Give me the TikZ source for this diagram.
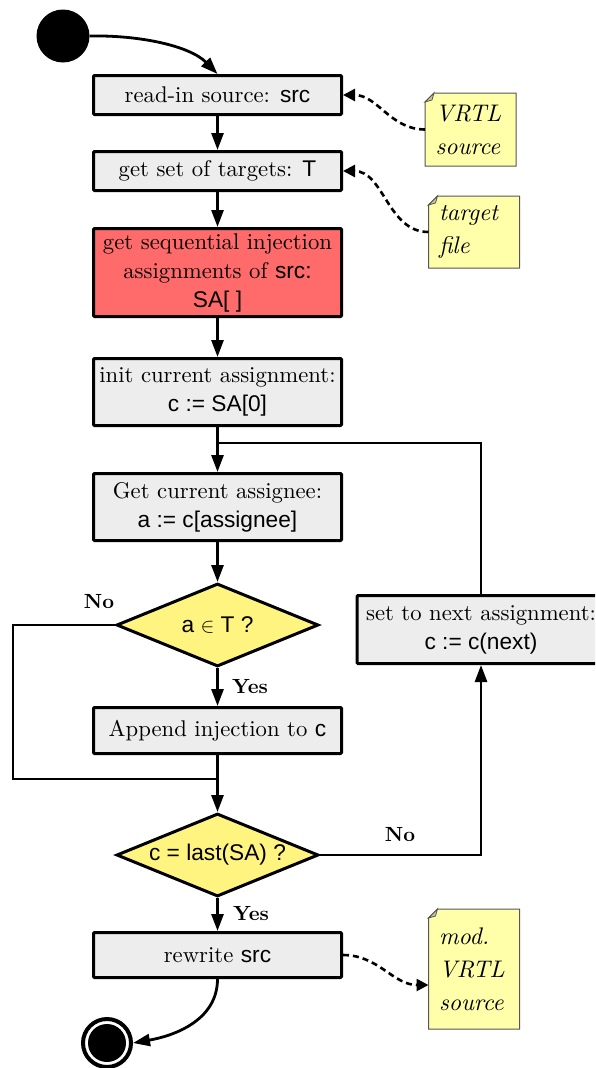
\documentclass[tikz,border=0pt]{standalone}
\usepackage{fontspec}
% 10pt design of Latin Modern at every size
\setmainfont{lmroman10}[Extension=.otf, UprightFont=*-regular, BoldFont=*-bold,
  ItalicFont=*-italic, BoldItalicFont=*-bolditalic]
\newfontfamily\codefont{Liberation Sans}
\usetikzlibrary{arrows.meta,shapes.geometric}
\pgfdeclarelayer{background}
\pgfsetlayers{background,main}

\definecolor{boxgray}{HTML}{EDEDED}
\definecolor{alertred}{HTML}{FF6A6A}
\definecolor{decisionyellow}{HTML}{FFF480}
\definecolor{notepaperfill}{HTML}{FFFFAA}
\definecolor{notefoldfill}{HTML}{CFC78E}
\definecolor{noteedge}{HTML}{555555}

% inline code in the sans face
\newcommand{\cd}[1]{{\codefont #1}}

\begin{document}
\begin{tikzpicture}[x=1pt,y=-1pt,
  every node/.style={font=\fontsize{22.7}{29}\selectfont},
  stepbox/.style={draw, line width=3pt, fill=boxgray, minimum width=248pt,
    inner sep=0pt, align=center, rounded corners=1pt},
  decision/.style={diamond, draw, line width=3pt, fill=decisionyellow,
    minimum width=202pt, minimum height=83pt, inner sep=0pt, aspect=2.4,
    font=\codefont\fontsize{22.7}{29}\selectfont},
  notetext/.style={rectangle, inner sep=0pt, outer sep=0pt, text width=70pt,
    align=left, minimum width=91pt, font=\itshape\fontsize{24}{33}\selectfont},
  notepaper/.style={fill=notepaperfill, draw=noteedge, line width=1pt},
  notefold/.style={fill=notefoldfill, draw=noteedge, line width=0.8pt},
  lbl/.style={font=\bfseries\fontsize{20.5}{24}\selectfont, inner sep=0pt},
  flow/.style={line width=2.8pt, -{Triangle[length=17pt,width=12pt]}},
  plainline/.style={line width=2.6pt},
  loopline/.style={line width=2.2pt},
  dataflow/.style={line width=2.6pt, dash pattern=on 6pt off 4pt,
    -{Triangle[length=12pt,width=12pt]}},
]
\path[use as bounding box] (0,0) rectangle (595,1068);
\clip (0,0) rectangle (595,1068);

% initial and final states
\node[circle, fill=black, minimum size=53pt, inner sep=0pt] (start) at (63,36) {};
\node[circle, draw, line width=4pt, minimum size=48pt, inner sep=0pt] (stop) at (107,1043) {};
\node[circle, fill=black, minimum size=38pt, inner sep=0pt] (stopcore) at (stop.center) {};

% main actions
\node[stepbox, minimum height=39pt] (readin) at (217.5,95) {read-in source: \cd{src}};
\node[stepbox, minimum height=39pt] (targets) at (217.5,171) {get set of targets: \cd{T}};
\node[stepbox, minimum height=88pt, fill=alertred] (seqinj) at (217.5,272.5)
  {get sequential injection\\assignments of \cd{src:}\\\cd{SA[ ]}};
\node[stepbox, minimum height=67pt] (initc) at (217.5,392) {init current assignment:\\\cd{c := SA[0]}};
\node[stepbox, minimum height=67pt] (assignee) at (217.5,507) {Get current assignee:\\\cd{a := c[assignee]}};
\node[decision] (intargets) at (217.5,625) {a $\in$ T ?};
\node[stepbox, minimum height=68pt] (nextc) at (481,629.5) {set to next assignment:\\\cd{c := c(next)}};
\node[stepbox, minimum height=46pt] (append) at (217.5,730.5) {Append injection to \cd{c}};
\node[decision] (islast) at (217.5,855) {c = last(SA) ?};
\node[stepbox, minimum height=45pt] (rewrite) at (217.5,955) {rewrite \cd{src}};

% notes
\node[notetext, minimum height=73pt] (vrtlsrc) at (470.5,129.5) {VRTL\\source};
\node[notetext, minimum height=72pt] (targetfile) at (474,232) {target\\file};
\node[notetext, minimum height=120pt] (modsrc) at (474,969) {mod.\\VRTL\\source};

\begin{pgfonlayer}{background}
\foreach \n in {vrtlsrc,targetfile,modsrc} {
  \path[notepaper] ([yshift=-9pt]\n.north west) -- ([xshift=9pt]\n.north west)
    -- (\n.north east) -- (\n.south east) -- (\n.south west) -- cycle;
  \path[notefold] ([yshift=-9pt]\n.north west) -- ([xshift=9pt]\n.north west)
    -- ([xshift=7pt,yshift=-7pt]\n.north west) -- cycle;
}
\end{pgfonlayer}

% branch labels
\node[lbl] (no1) at (99,602) {No};
\node[lbl] (yes1) at (250,687) {Yes};
\node[lbl] (no2) at (400,835) {No};
\node[lbl] (yes2) at (251,914) {Yes};

% junction points
\coordinate (loopjoin) at (217.5,443);
\coordinate (leftturn) at (13,779);
\coordinate (nojoin) at (217.5,779);
\coordinate (modsrcin) at ([yshift=-16pt]modsrc.west);

% control flow
\draw[flow] (start.east) .. controls (140,35) and (190,46) .. (readin.north);
\draw[flow] (readin) -- (targets);
\draw[flow] (targets) -- (seqinj);
\draw[flow] (seqinj) -- (initc);
\draw[flow] (initc) -- (assignee);
\draw[loopline] (nextc.north) |- (loopjoin);
\draw[flow] (assignee) -- (intargets);
\draw[flow] (intargets) -- (append);
\draw[plainline] (intargets.west) -| (leftturn) -- (nojoin);
\draw[flow] (append) -- (islast);
\draw[flow] (islast.east) -| (nextc.south);
\draw[flow] (islast) -- (rewrite);
\draw[flow] (rewrite.south) to[out=-90,in=10] (stop.east);

% data flow
\draw[dataflow] (vrtlsrc.west) to[out=180,in=0] (readin.east);
\draw[dataflow] (targetfile.west) to[out=180,in=0] (targets.east);
\draw[dataflow] (rewrite.east) to[out=0,in=180] (modsrcin);
\end{tikzpicture}
\end{document}
